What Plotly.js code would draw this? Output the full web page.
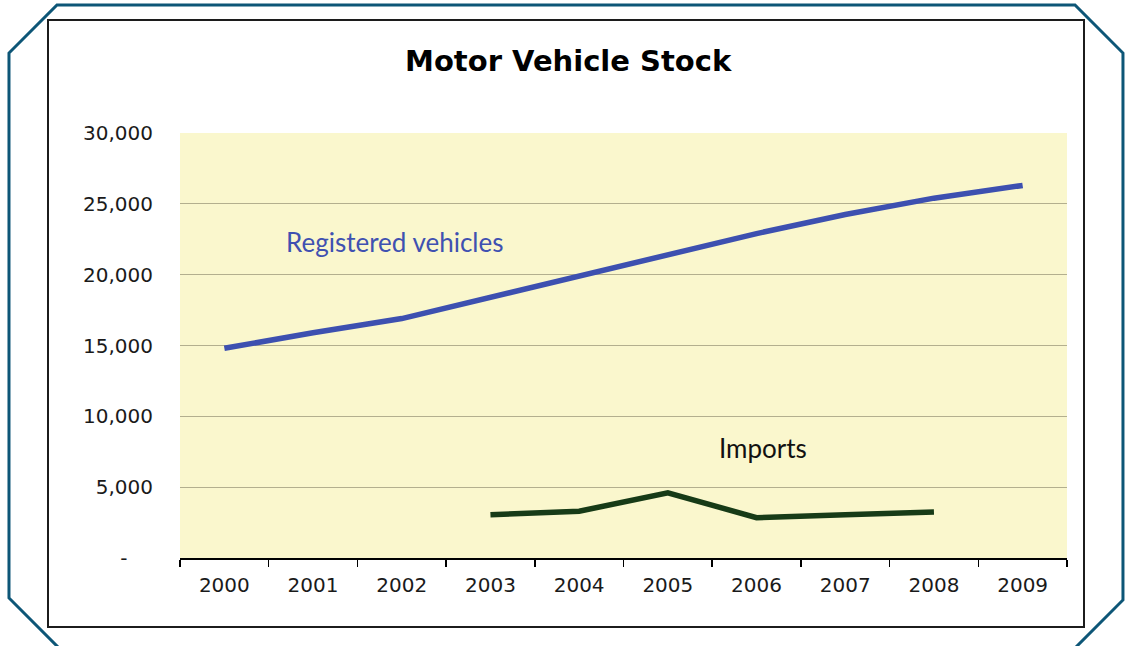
<!DOCTYPE html>
<html>
<head>
<meta charset="utf-8">
<script src="https://cdn.plot.ly/plotly-3.0.1.min.js"></script>
<style>
  html, body { margin: 0; padding: 0; background: #ffffff; }
  #chart { width: 1125px; height: 646px; }
</style>
</head>
<body>
<div id="chart"></div>
<script>
// chart values
const years = ["2000", "2001", "2002", "2003", "2004", "2005", "2006", "2007", "2008", "2009"];
const registered = [14800, 15900, 16900, 18400, 19900, 21500, 22900, 24250, 25400, 26300];
const importYears = ["2003", "2004", "2005", "2006", "2007", "2008"];
const imports = [3050, 3300, 4600, 2850, 3050, 3250];
const yTicks = [0, 5000, 10000, 15000, 20000, 25000, 30000];
const yTickText = ["-\u00a0\u00a0\u00a0\u00a0", "5,000", "10,000", "15,000", "20,000", "25,000", "30,000"];

// plot box in pixels (used to place frame shapes in paper units)
const W = 1125, H = 646;
const L = 180, R = 1067, T = 133, B = 558;
const px = (x) => (x - L) / (R - L);
const py = (y) => (B - y) / (B - T);

function path (pts) {
  return pts.map((p, i) => (i ? "L " : "M ") + px(p[0]).toFixed(4) + "," + py(p[1]).toFixed(4)).join(" ");
}

const traces = [
  { x: years, y: registered, type: "scatter", mode: "lines",
    line: { color: "#3d50b0", width: 5.5 }, name: "Registered vehicles", hoverinfo: "skip" },
  { x: importYears, y: imports, type: "scatter", mode: "lines",
    line: { color: "#173b17", width: 5.5 }, name: "Imports", hoverinfo: "skip" }
];

const layout = {
  width: W, height: H,
  margin: { l: L, r: W - R, t: T, b: H - B, pad: 0 },
  paper_bgcolor: "#ffffff",
  plot_bgcolor: "#faf7cd",
  showlegend: false,
  title: { text: "Motor Vehicle Stock", x: 0.505, xanchor: "center", y: 1 - 61 / H, yanchor: "middle",
           font: { family: "DejaVu Sans", size: 29, color: "#000000", weight: "bold" } },
  xaxis: {
    type: "category", range: [-0.5, 9.5],
    tickson: "boundaries", ticks: "outside", ticklen: 7, tickwidth: 1.5, tickcolor: "#000",
    showline: true, linecolor: "#000", linewidth: 1.5,
    showgrid: false, zeroline: false,
    ticklabelstandoff: 8,
    tickfont: { family: "DejaVu Sans", size: 20, color: "#1a1a1a" }
  },
  yaxis: {
    range: [0, 30000], tickvals: yTicks, ticktext: yTickText,
    showline: false, ticks: "", zeroline: false,
    showgrid: true, gridcolor: "#b3af8e", gridwidth: 1,
    ticklabelstandoff: 26,
    tickfont: { family: "DejaVu Sans", size: 20, color: "#1a1a1a" }
  },
  annotations: [
    { text: "Registered vehicles", xref: "paper", yref: "paper", x: px(284), y: py(242),
      xanchor: "left", yanchor: "middle", showarrow: false,
      font: { family: "Lato", size: 26, color: "#3f51b1" } },
    { text: "Imports", xref: "paper", yref: "paper", x: px(717), y: py(448),
      xanchor: "left", yanchor: "middle", showarrow: false,
      font: { family: "Lato", size: 26, color: "#111111" } }
  ],
  shapes: [
    // outer cut-corner frame
    { type: "path", xref: "paper", yref: "paper", layer: "above",
      path: path([[61, 650], [9, 598], [9, 53], [57, 5], [1075, 5], [1123, 53], [1123, 600], [1073, 650]]),
      line: { color: "#0d5677", width: 3 } },
    // inner chart border
    { type: "rect", xref: "paper", yref: "paper", layer: "below",
      x0: px(48), x1: px(1084), y0: py(20), y1: py(627),
      line: { color: "#1c1c1c", width: 2 } }
  ]
};

Plotly.newPlot("chart", traces, layout, { staticPlot: true, displayModeBar: false });
</script>
</body>
</html>
